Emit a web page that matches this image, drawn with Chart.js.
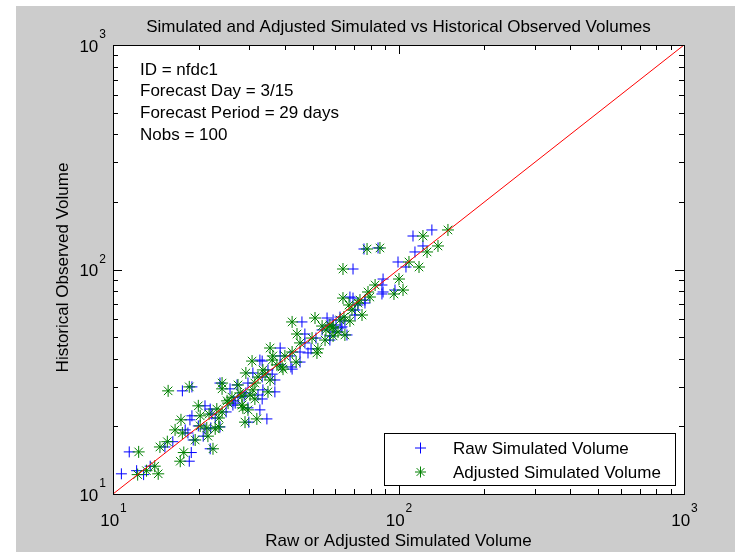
<!DOCTYPE html>
<html>
<head>
<meta charset="utf-8">
<script src="https://cdn.jsdelivr.net/npm/chart.js@4.4.0/dist/chart.umd.min.js"></script>
<style>
  html, body { margin: 0; padding: 0; background: #ffffff; }
  #wrap { width: 740px; height: 552px; }
</style>
</head>
<body>
<div id="wrap"><canvas id="volChart" width="740" height="552"></canvas></div>
<script>
// historical observed volume for each forecast, with raw and adjusted simulated volume
const observed = [12.3, 12.7, 12.2, 15.4, 14.0, 15.3, 17.1, 17.4, 15.9, 19.3,
                  19.7, 18.1, 19.5, 19.9, 21.4, 22.3, 22.7, 24.7, 23.9, 25.4,
                  28.8, 30.0, 31.2, 29.4, 30.6, 23.7, 24.2, 21.6, 20.9, 26.0,
                  24.9, 27.3, 26.5, 29.1, 28.5, 34.6, 34.2, 32.2, 39.1, 39.5,
                  41.2, 36.8, 44.7, 42.9, 44.3, 51.6, 58.4, 60.8, 42.5, 36.0,
                  74.6, 70.9, 77.8, 81.0, 79.4, 75.4, 62.7, 59.0, 55.5, 51.1,
                  69.5, 90.7, 100.5, 108.0, 102.6, 123.4, 124.7, 119.7, 127.3, 141.0,
                  150.0, 54.9, 50.6, 27.0, 28.2, 33.2, 37.6, 47.1, 49.5, 53.8,
                  56.6, 56.0, 52.7, 59.6, 61.4, 20.1, 18.7, 16.2, 13.3, 23.2,
                  21.8, 31.2, 35.7, 41.2, 66.0, 85.3, 73.1, 48.5, 38.7, 27.6];
const rawSim = [10.7, 12.1, 12.8, 11.4, 18.5, 18.8, 16.2, 19.1, 21.9, 17.9,
                22.0, 20.7, 21.0, 23.7, 18.6, 18.9, 22.2, 21.0, 21.9, 26.8,
                17.5, 18.9, 23.7, 25.7, 27.2, 32.7, 29.7, 34.6, 29.9, 26.5,
                26.3, 28.8, 33.3, 33.5, 36.9, 30.9, 36.1, 36.9, 33.3, 32.7,
                38.5, 42.0, 38.5, 45.2, 49.4, 47.0, 45.9, 56.2, 48.2, 42.4,
                69.3, 76.3, 87.5, 97.2, 88.3, 67.6, 70.4, 64.9, 63.4, 66.0,
                72.1, 88.3, 69.3, 99.6, 106.2, 75.7, 84.8, 114.2, 121.8, 112.4,
                130.9, 62.9, 57.5, 27.4, 29.2, 33.3, 38.5, 47.0, 51.4, 54.0,
                60.4, 56.6, 59.9, 59.0, 62.4, 19.9, 18.3, 15.2, 13.5, 24.9,
                22.8, 29.7, 34.9, 41.7, 70.4, 87.5, 76.3, 57.5, 45.2, 32.2];
const adjSim = [14.4, 13.1, 12.2, 12.3, 17.2, 17.7, 15.5, 19.4, 22.4, 16.5,
                21.3, 21.5, 22.8, 23.5, 17.3, 20.2, 21.7, 19.9, 23.1, 25.3,
                15.6, 18.5, 24.1, 24.1, 27.4, 29.7, 28.5, 31.9, 29.0, 25.1,
                28.3, 28.3, 31.4, 30.9, 34.9, 29.2, 34.1, 35.5, 30.7, 36.1,
                36.3, 39.1, 35.5, 42.4, 52.2, 44.1, 42.4, 51.0, 51.8, 39.4,
                63.9, 72.1, 96.4, 103.7, 78.2, 79.4, 74.5, 67.6, 59.0, 64.9,
                67.1, 100.4, 63.9, 108.8, 118.0, 77.6, 86.1, 125.9, 137.5, 121.8,
                149.0, 58.5, 59.0, 26.1, 27.9, 32.2, 37.5, 45.2, 49.8, 55.7,
                57.5, 54.0, 61.4, 62.4, 64.4, 20.2, 17.5, 14.6, 14.0, 24.1,
                23.5, 31.4, 33.5, 40.0, 68.7, 82.8, 73.3, 55.3, 43.8, 30.2];

const axisRange = [10, 1000];
const decades = [10, 100, 1000];
const decadeExps = ['1', '2', '3'];
const infoLines = ['ID = nfdc1', 'Forecast Day = 3/15', 'Forecast Period = 29 days', 'Nobs = 100'];
const seriesNames = ['Raw Simulated Volume', 'Adjusted Simulated Volume'];

const FONT = '"Liberation Sans", Arial, sans-serif';
const TEXT = '17px ' + FONT;
const SUP = '12px ' + FONT;

function drawCross(ctx, x, y, r) {
  ctx.beginPath();
  ctx.moveTo(x - r, y); ctx.lineTo(x + r, y);
  ctx.moveTo(x, y - r); ctx.lineTo(x, y + r);
  ctx.stroke();
}
function drawStar(ctx, x, y, r) {
  drawCross(ctx, x, y, r);
  const d = r * 0.7071;
  ctx.beginPath();
  ctx.moveTo(x - d, y - d); ctx.lineTo(x + d, y + d);
  ctx.moveTo(x - d, y + d); ctx.lineTo(x + d, y - d);
  ctx.stroke();
}

// figure background, axes box, ticks, labels and the legend
const matlabFrame = {
  id: 'matlabFrame',
  beforeDraw(chart) {
    const ctx = chart.ctx, a = chart.chartArea;
    ctx.save();
    ctx.fillStyle = '#ffffff';
    ctx.fillRect(0, 0, chart.width, chart.height);
    ctx.fillStyle = '#cccccc';
    ctx.fillRect(16, 6, 719, 546);
    ctx.fillStyle = '#ffffff';
    ctx.fillRect(a.left, a.top, a.right - a.left, a.bottom - a.top);
    ctx.restore();
  },
  afterDraw(chart) {
    const ctx = chart.ctx, a = chart.chartArea;
    const xs = chart.scales.x, ys = chart.scales.y;
    ctx.save();
    ctx.strokeStyle = '#000000';
    ctx.lineWidth = 1;
    ctx.strokeRect(Math.round(a.left) + 0.5, Math.round(a.top) + 0.5,
                   Math.round(a.right - a.left), Math.round(a.bottom - a.top));

    // inward ticks on all four sides
    ctx.beginPath();
    for (let k = 0; k < decades.length; k++) {
      const top = k === decades.length - 1 ? 1 : 9;
      for (let m = 1; m <= top; m++) {
        const v = decades[k] * m;
        const len = m === 1 ? 9 : 5;
        const px = Math.round(xs.getPixelForValue(v)) + 0.5;
        ctx.moveTo(px, a.bottom); ctx.lineTo(px, a.bottom - len);
        ctx.moveTo(px, a.top); ctx.lineTo(px, a.top + len);
        const py = Math.round(ys.getPixelForValue(v)) + 0.5;
        ctx.moveTo(a.left, py); ctx.lineTo(a.left + len, py);
        ctx.moveTo(a.right, py); ctx.lineTo(a.right - len, py);
      }
    }
    ctx.stroke();

    // decade labels, 10 with a superscript exponent
    ctx.fillStyle = '#000000';
    ctx.textBaseline = 'middle';
    for (let k = 0; k < decades.length; k++) {
      ctx.font = TEXT;
      const baseW = ctx.measureText('10').width;
      ctx.font = SUP;
      const expW = ctx.measureText(decadeExps[k]).width;
      // x axis
      const px = xs.getPixelForValue(decades[k]);
      const start = px - (baseW + expW) / 2;
      ctx.textAlign = 'left';
      ctx.font = TEXT;
      ctx.fillText('10', start, a.bottom + 27);
      ctx.font = SUP;
      ctx.fillText(decadeExps[k], start + baseW + 1, a.bottom + 15);
      // y axis
      const py = ys.getPixelForValue(decades[k]);
      ctx.textAlign = 'right';
      ctx.fillText(decadeExps[k], a.left - 7, py - 10);
      ctx.font = TEXT;
      ctx.fillText('10', a.left - 7 - expW - 1, py + 2);
    }

    // title and axis names
    ctx.font = TEXT;
    ctx.textAlign = 'center';
    ctx.fillText('Simulated and Adjusted Simulated vs Historical Observed Volumes', (a.left + a.right) / 2, 27);
    ctx.fillText('Raw or Adjusted Simulated Volume', (a.left + a.right) / 2, 541);
    ctx.save();
    ctx.translate(63, (a.top + a.bottom) / 2 - 2);
    ctx.rotate(-Math.PI / 2);
    ctx.fillText('Historical Observed Volume', 0, 0);
    ctx.restore();

    // run information in the upper left corner
    ctx.textAlign = 'left';
    infoLines.forEach((t, i) => ctx.fillText(t, a.left + 27, a.top + 25 + i * 21.7));

    // legend box
    const lx = 384, ly = 433, lw = 291, lh = 52;
    ctx.fillStyle = '#ffffff';
    ctx.fillRect(lx, ly, lw, lh);
    ctx.strokeStyle = '#000000';
    ctx.strokeRect(lx + 0.5, ly + 0.5, lw, lh);
    const rowY = [ly + 15, ly + 39];
    ctx.lineWidth = 1;
    ctx.strokeStyle = '#0000ff';
    drawCross(ctx, lx + 36.5, rowY[0], 5.5);
    ctx.strokeStyle = '#008000';
    drawStar(ctx, lx + 36.5, rowY[1], 5.5);
    ctx.fillStyle = '#000000';
    ctx.font = TEXT;
    seriesNames.forEach((t, i) => ctx.fillText(t, lx + 69, rowY[i] + 1));
    ctx.restore();
  }
};

const ctx = document.getElementById('volChart').getContext('2d');
new Chart(ctx, {
  type: 'scatter',
  data: {
    datasets: [
      {
        type: 'line',
        data: [{ x: axisRange[0], y: axisRange[0] }, { x: axisRange[1], y: axisRange[1] }],
        borderColor: '#ff0000',
        borderWidth: 1,
        pointRadius: 0,
        order: 0
      },
      {
        data: observed.map((y, i) => ({ x: adjSim[i], y: y })),
        pointStyle: 'star',
        pointRadius: 6,
        pointBorderWidth: 1,
        borderColor: '#008000',
        backgroundColor: '#008000',
        order: 1
      },
      {
        data: observed.map((y, i) => ({ x: rawSim[i], y: y })),
        pointStyle: 'cross',
        pointRadius: 5.5,
        pointBorderWidth: 1,
        borderColor: '#0000ff',
        backgroundColor: '#0000ff',
        order: 2
      }
    ]
  },
  options: {
    responsive: false,
    animation: false,
    layout: { padding: { left: 113, right: 56, top: 45, bottom: 58 } },
    scales: {
      x: { type: 'logarithmic', min: axisRange[0], max: axisRange[1], display: false },
      y: { type: 'logarithmic', min: axisRange[0], max: axisRange[1], display: false }
    },
    plugins: {
      legend: { display: false },
      title: { display: false },
      tooltip: { enabled: false }
    }
  },
  plugins: [matlabFrame]
});
</script>
</body>
</html>
